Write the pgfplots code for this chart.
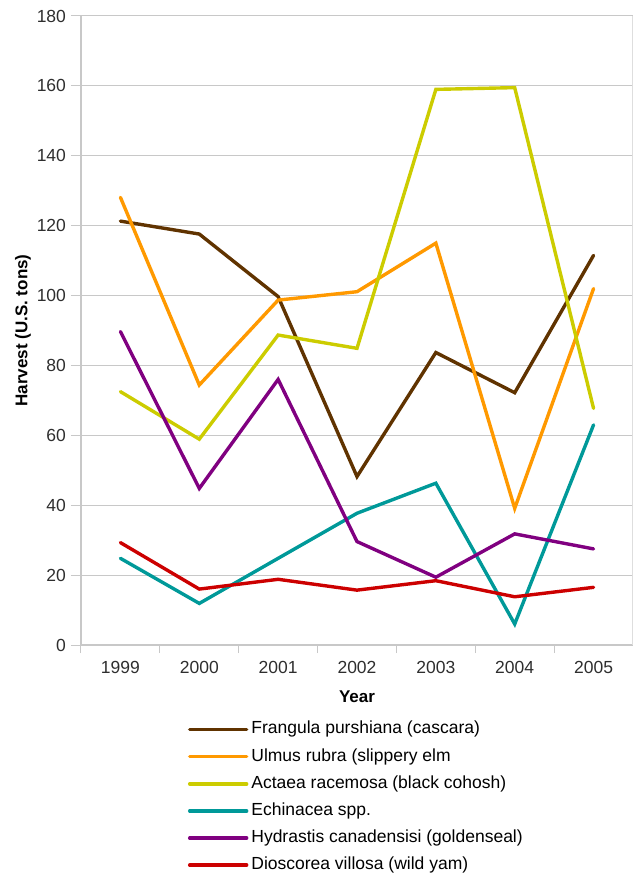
\documentclass[border=0pt]{standalone}
\usepackage{fontspec}
\setmainfont{Liberation Sans}
\usepackage{pgfplots}
\pgfplotsset{compat=1.18}
\definecolor{cBrown}{HTML}{603300}
\definecolor{cOrange}{HTML}{FF9900}
\definecolor{cYellow}{HTML}{CCCC00}
\definecolor{cTeal}{HTML}{009999}
\definecolor{cPurple}{HTML}{800080}
\definecolor{cRed}{HTML}{CC0000}
\definecolor{cGrid}{HTML}{C8C8C8}
\begin{document}
\fontsize{17.5}{21}\selectfont
\begin{tikzpicture}
\begin{axis}[
  scale only axis, width=552pt, height=629pt,
  xmin=-0.5, xmax=6.5, ymin=0, ymax=180,
  ytick={0,20,...,180},
  xtick={0,...,6}, xticklabels={1999,2000,2001,2002,2003,2004,2005},
  minor xtick={-0.5,0.5,1.5,2.5,3.5,4.5,5.5},
  extra x ticks={6.5}, extra x tick labels={},
  extra x tick style={grid=major, major grid style={draw=cGrid!60, line width=1pt}, major tick length=0pt},
  major x tick style={draw=none},
  tick align=outside,
  major tick length=10pt, minor tick length=8pt,
  tick style={draw=cGrid, line width=1pt},
  ymajorgrids, major grid style={draw=cGrid, line width=1pt},
  axis x line*=bottom, axis y line*=left,
  axis line style={draw=cGrid, line width=1.5pt},
  ticklabel style={font=\fontsize{17.5}{21}\selectfont, text=black!82},
  yticklabel style={xshift=1pt},
  /pgf/number format/assume math mode=true,
  xlabel={\bfseries Year}, ylabel={\bfseries Harvest (U.S. tons)},
  label style={font=\fontsize{17}{21}\selectfont},
  xlabel style={yshift=4pt},
  ylabel style={yshift=-6pt},
  legend cell align=left,
  legend style={draw=none, at={(0.188,-0.118)}, anchor=north west,
    font=\fontsize{17.5}{21}\selectfont, row sep=10.6pt,
    nodes={text height=12.5pt, text depth=4pt, inner ysep=0pt, inner xsep=3pt}},
  legend image code/.code={\draw[#1, line width=3.4pt, line cap=round] (0pt,0pt) -- (57pt,0pt);},
  every axis plot/.append style={line width=3.4pt, line cap=round},
]
\addplot[cBrown] coordinates {(0,121.3) (1,117.6) (2,99.7) (3,48.2) (4,83.7) (5,72.2) (6,111.5)};
\addlegendentry{Frangula purshiana (cascara)}
\addplot[cOrange] coordinates {(0,128.1) (1,74.4) (2,98.7) (3,101.1) (4,115.0) (5,39.1) (6,102.0)};
\addlegendentry{Ulmus rubra (slippery elm}
\addplot[cYellow] coordinates {(0,72.5) (1,58.9) (2,88.7) (3,84.9) (4,159.0) (5,159.5) (6,67.7)};
\addlegendentry{Actaea racemosa (black cohosh)}
\addplot[cTeal] coordinates {(0,24.8) (1,11.9) (2,24.8) (3,37.7) (4,46.3) (5,6.0) (6,63.0)};
\addlegendentry{Echinacea spp.}
\addplot[cPurple] coordinates {(0,89.7) (1,44.8) (2,76.0) (3,29.6) (4,19.4) (5,31.8) (6,27.5)};
\addlegendentry{Hydrastis canadensisi (goldenseal)}
\addplot[cRed] coordinates {(0,29.3) (1,16.0) (2,18.8) (3,15.7) (4,18.4) (5,13.8) (6,16.5)};
\addlegendentry{Dioscorea villosa (wild yam)}
\coordinate (O) at (rel axis cs:0,0);
\end{axis}
\pgfresetboundingbox
\path[use as bounding box] ([xshift=-81pt,yshift=-230pt]O) rectangle ++(634pt,875pt);
\end{tikzpicture}
\end{document}
